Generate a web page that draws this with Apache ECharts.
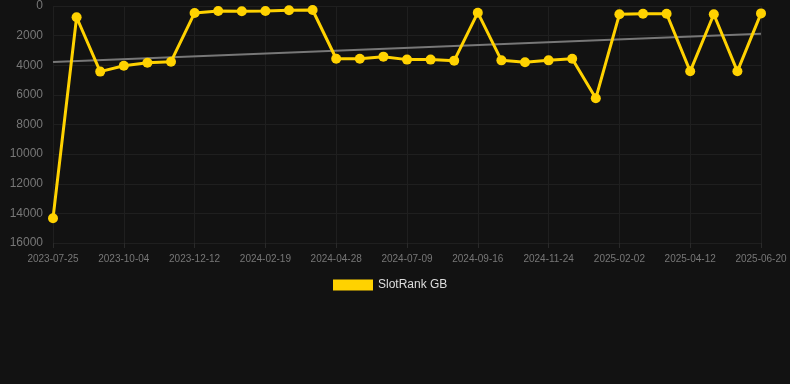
<!DOCTYPE html>
<html>
<head>
<meta charset="utf-8">
<script src="https://cdn.jsdelivr.net/npm/echarts@6/dist/echarts.min.js"></script>
<style>
  html, body { margin: 0; padding: 0; background: #121212; }
  #chart { width: 790px; height: 384px; }
</style>
</head>
<body>
<div id="chart"></div>
<script>
let dates = [
    '2023-07-25', '2023-08-17', '2023-09-10', '2023-10-04', '2023-10-27', '2023-11-19',
    '2023-12-12', '2024-01-04', '2024-01-27', '2024-02-19', '2024-03-13', '2024-04-05',
    '2024-04-28', '2024-05-22', '2024-06-15', '2024-07-09', '2024-08-01', '2024-08-24',
    '2024-09-16', '2024-10-09', '2024-11-01', '2024-11-24', '2024-12-17', '2025-01-09',
    '2025-02-02', '2025-02-25', '2025-03-20', '2025-04-12', '2025-05-05', '2025-05-28',
    '2025-06-20'
];
let rankGB = [
    14330, 760, 4430, 4030, 3830, 3760,
    470, 340, 360, 340, 290, 270,
    3560, 3560, 3420, 3620, 3620, 3690,
    450, 3670, 3800, 3670, 3560, 6230,
    560, 520, 520, 4410, 560, 4410,
    500
];
// trend line ends (first and last date)
let trendEnds = [3780, 1870];

let myChart
function draw(){
    let option = {
        backgroundColor: '#121212',
        animation: false,
        grid: {
            left: 53,
            right: 29,
            top: 6,
            bottom: 141
        },
        legend: {
            top: 274,
            left: 328,
            itemWidth: 40,
            itemHeight: 11,
            itemGap: 10,
            icon: 'rect',
            textStyle: { color: '#dddddd', fontSize: 12, fontFamily: 'Liberation Sans, Arial' },
            data: ['SlotRank GB']
        },
        xAxis: {
            type: 'category',
            boundaryGap: false,
            data: dates,
            axisLine: { show: false, onZero: false },
            axisTick: {
                show: true,
                interval: 2,
                length: 5,
                lineStyle: { color: '#2a2a2a' }
            },
            axisLabel: {
                interval: 2,
                color: '#777777',
                fontSize: 10,
                margin: 11,
                fontFamily: 'Liberation Sans, Arial'
            },
            splitLine: {
                show: true,
                interval: 2,
                lineStyle: { color: '#1f1f1f', width: 1 }
            }
        },
        yAxis: {
            type: 'value',
            inverse: true,
            min: 0,
            max: 16000,
            interval: 2000,
            axisLine: { show: false },
            axisTick: { show: false },
            axisLabel: {
                color: '#777777',
                fontSize: 12,
                margin: 10,
                fontFamily: 'Liberation Sans, Arial',
                formatter: function (v) { return String(v); }
            },
            splitLine: {
                lineStyle: { color: '#1f1f1f', width: 1 }
            }
        },
        series: [
            {
                name: 'Trend',
                type: 'line',
                data: [[dates[0], trendEnds[0]], [dates[dates.length - 1], trendEnds[1]]],
                symbol: 'none',
                lineStyle: { color: '#777777', width: 2 },
                z: 1,
                silent: true
            },
            {
                name: 'SlotRank GB',
                type: 'line',
                data: rankGB,
                symbol: 'circle',
                symbolSize: 10,
                color: '#ffd200',
                lineStyle: { color: '#ffd200', width: 3 },
                itemStyle: { color: '#ffd200' },
                z: 3
            }
        ]
    };

    myChart = echarts.init(document.getElementById("chart"));
    myChart.setOption(option);

    window.addEventListener('resize',function(){
        myChart.resize();
    },false)
}

draw()
</script>
</body>
</html>
